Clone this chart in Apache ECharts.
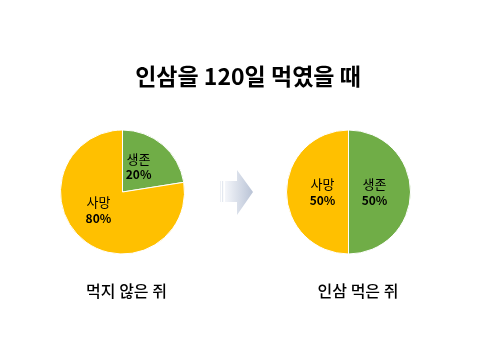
<!DOCTYPE html>
<html><head><meta charset="utf-8">
<script src="https://cdn.jsdelivr.net/npm/echarts@6/dist/echarts.min.js"></script>
<style>html,body{margin:0;padding:0;background:#fff}#c{width:480px;height:360px}</style>
</head><body><div id="c"></div>
<script>
var titleText = '인삼을 120일 먹였을 때';
var groupNames = ['먹지 않은 쥐', '인삼 먹은 쥐'];
var categories = ['생존', '사망'];
var untreatedValues = [22.5, 77.5];
var untreatedLabels = ['20%', '80%'];
var treatedValues = [50, 50];
var treatedLabels = ['50%', '50%'];
var colors = ['#70AD47', '#FFC000'];
var font = '"Noto Sans CJK KR", "Noto Sans", sans-serif';

function makeData(vals, labs) {
  return categories.map(function (c, i) {
    return { name: c, value: vals[i], pct: labs[i], itemStyle: { color: colors[i] } };
  });
}
function makeSeries(vals, labs, cx, shifts) {
  var d = makeData(vals, labs);
  return {
    type: 'pie', center: [cx, 192], radius: [0, 62], startAngle: 90, clockwise: true,
    silent: true, animation: false,
    itemStyle: { borderColor: '#fff', borderWidth: 1 },
    label: {
      position: 'inside', fontFamily: font,
      formatter: function (p) { return '{n|' + p.name + '}\n{p|' + p.data.pct + '}'; },
      rich: {
        n: { fontSize: 13, color: '#000', fontFamily: font, lineHeight: 17 },
        p: { fontSize: 12, fontWeight: 'bold', color: '#000', fontFamily: font, lineHeight: 15 }
      }
    },
    labelLayout: function (p) { var s = shifts[p.dataIndex]; return { dx: s[0], dy: s[1] }; },
    labelLine: { show: false },
    data: d
  };
}
var chart = echarts.init(document.getElementById('c'));
chart.setOption({
  backgroundColor: '#fff',
  title: [
    { text: titleText, left: 243, top: 60, textAlign: 'center',
      textStyle: { fontSize: 23, fontWeight: 'bold', color: '#000', fontFamily: font } },
    { text: groupNames[0], left: 121.5, top: 278, textAlign: 'center',
      textStyle: { fontSize: 16, fontWeight: 500, color: '#000', fontFamily: font } },
    { text: groupNames[1], left: 353, top: 278, textAlign: 'center',
      textStyle: { fontSize: 16, fontWeight: 500, color: '#000', fontFamily: font } }
  ],
  graphic: [
    { type: 'polygon', silent: true,
      shape: { points: [[225,181],[237,181],[237,170],[253,192],[237,215],[237,202],[225,202]] },
      style: { fill: new echarts.graphic.LinearGradient(0,0,1,0,[{offset:0,color:'#f4f6fa'},{offset:1,color:'#b9c3d6'}]) } },
    { type: 'rect', silent: true, shape: { x: 222, y: 181, width: 1.2, height: 21 }, style: { fill: '#e3e8f0' } },
    { type: 'rect', silent: true, shape: { x: 220, y: 181, width: 1, height: 21 }, style: { fill: '#edf0f5' } }
  ],
  series: [
    makeSeries(untreatedValues, untreatedLabels, 122.5, [[-6, 0], [-2, -8]]),
    makeSeries(treatedValues, treatedLabels, 348.5, [[-8, 0], [8, 0]])
  ]
});
</script></body></html>
